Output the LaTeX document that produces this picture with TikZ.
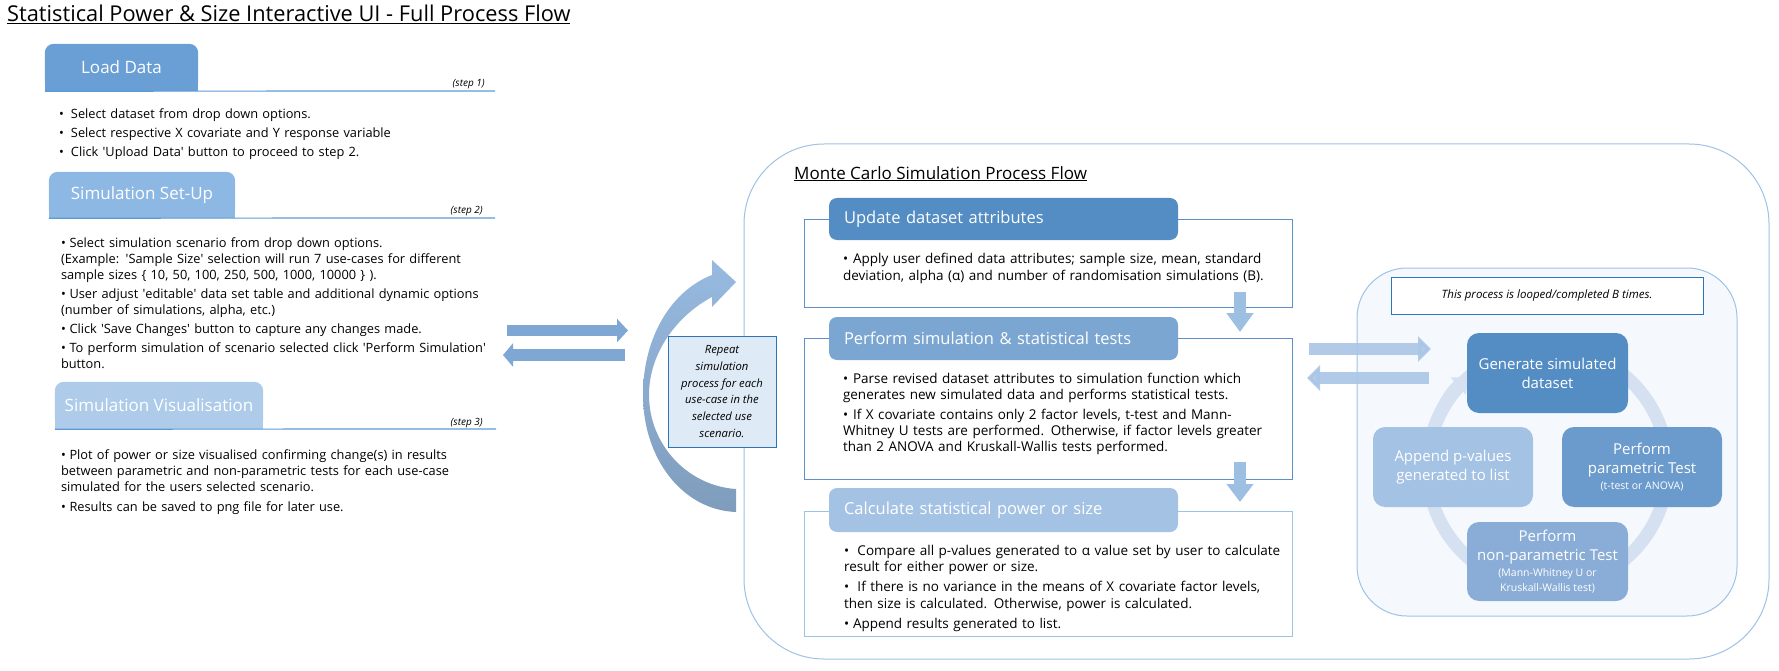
\documentclass[tikz,border=0pt]{standalone}
\usepackage{fontspec}
\setmainfont{Open Sans}
\usetikzlibrary{positioning,arrows.meta,calc,backgrounds}

\definecolor{tabload}{HTML}{6A9FD5}
\definecolor{tabsetup}{HTML}{8DB8E3}
\definecolor{tabvis}{HTML}{AECCE9}
\definecolor{rulecol}{HTML}{5B9BD5}
\definecolor{framecol}{HTML}{9DC3E6}
\definecolor{boxedge}{HTML}{5E8FC9}
\definecolor{darkedge}{HTML}{2E75B6}
\definecolor{noteback}{HTML}{DEEBF7}
\definecolor{stepA}{HTML}{548DC3}
\definecolor{stepB}{HTML}{7BA6D2}
\definecolor{stepC}{HTML}{A4C2E3}
\definecolor{cycA}{HTML}{548DC3}
\definecolor{cycB}{HTML}{6B9BCC}
\definecolor{cycC}{HTML}{8AADD7}
\definecolor{cycD}{HTML}{A4C2E3}
\definecolor{ringcol}{HTML}{D5E0F0}
\definecolor{loopback}{HTML}{F5F9FD}
\definecolor{uiarrow}{HTML}{7EA7D4}
\definecolor{downarrow}{HTML}{9DBFE2}
\definecolor{looparrow}{HTML}{A9C5E6}
\definecolor{crestop}{HTML}{97BAE0}
\definecolor{cresbot}{HTML}{7F9CBC}

\newlength\bulind
\newcommand\q{\textquotesingle}
\newcommand\bulletsetup[2]{\setlength\bulind{#1}\setlength\parskip{#2}}
\newcommand\bitem[1]{\par\hangindent=\bulind\hangafter=1\noindent
  \makebox[\bulind][l]{\textbullet}#1\par}

\begin{document}
\begin{tikzpicture}[x=1pt,y=-1pt,
                    tab/.style={text=white,inner sep=0pt,
                                font=\fontsize{17}{20}\selectfont},
                    steplabel/.style={font=\itshape\fontsize{10}{12}\selectfont,
                                      inner sep=0pt},
                    rule/.style={draw=rulecol,line width=1.2pt},
                    bullets/.style={text width=#1,align=left,inner sep=0pt},
                    leftfont/.style={font=\fontsize{12.8}{16.1}\selectfont},
                    mcfont/.style={font=\fontsize{13.5}{16.3}\selectfont},
                    secbox/.style={draw=boxedge,line width=0.9pt,fill=white},
                    sectab/.style={text=white,rounded corners=8pt,
                                   text width=319pt,inner xsep=15pt,
                                   align=left,minimum height=42pt,
                                   font=\fontsize{16.5}{20}\selectfont},
                    cyc/.style={text=white,rounded corners=12pt,align=center,
                                minimum width=161pt,minimum height=80pt,
                                inner sep=2pt,font=\fontsize{15}{19}\selectfont},
                    blockarrow/.style={line width=12pt,
                                       -{Triangle[width=25pt,length=13pt]}}]
  \useasboundingbox (0,0) rectangle (1779,671);

  \node[anchor=base west,inner sep=0pt,font=\fontsize{21.8}{26}\selectfont]
    (title) at (7,22) {\underline{Statistical Power \& Size Interactive UI - Full Process Flow}};

  % left column: the three UI steps
  \node[tab,minimum width=153pt,minimum height=47pt] (load) at (121.5,67.5) {Load Data};
  \node[tab,minimum width=186pt,minimum height=46pt] (setup) at (142,195) {Simulation Set-Up};
  \node[tab,minimum width=208pt,minimum height=47pt] (vis) at (159,405.5) {Simulation Visualisation};
  \begin{scope}[on background layer]
    \fill[tabload,rounded corners=9pt] (load.south west) rectangle (load.north east);
    \fill[tabload] (load.south west) rectangle (load.east);
    \fill[tabsetup,rounded corners=9pt] (setup.south west) rectangle (setup.north east);
    \fill[tabsetup] (setup.south west) rectangle (setup.east);
    \fill[tabvis,rounded corners=9pt] (vis.south west) rectangle (vis.north east);
    \fill[tabvis] (vis.south west) rectangle (vis.east);
  \end{scope}

  \node[steplabel,anchor=base east] (step1) at (485,87) {(step 1)};
  \node[steplabel,anchor=base east] (step2) at (483,214) {(step 2)};
  \node[steplabel,anchor=base east] (step3) at (483,425) {(step 3)};
  \draw[rule] (load.south west) -- (495,91);
  \draw[rule] (setup.south west) -- (495,218);
  \draw[rule] (vis.south west) -- (496,429);

  \node[bullets=440pt,leftfont,below right=8pt and 14pt of load.south west] (loadtxt)
    {\bulletsetup{12pt}{2.8pt}%
     \bitem{Select dataset from drop down options.}
     \bitem{Select respective X covariate and Y response variable}
     \bitem{Click \q Upload Data\q{} button to proceed to step 2.}};
  \node[bullets=440pt,leftfont,below right=10pt and 12pt of setup.south west] (setuptxt)
    {\bulletsetup{8.5pt}{2.8pt}%
     \bitem{Select simulation scenario from drop down options.\\
            (Example: \q Sample Size\q{} selection will run 7 use-cases for different\\
            sample sizes \{ 10, 50, 100, 250, 500, 1000, 10000 \} ).}
     \bitem{User adjust \q editable\q{} data set table and additional dynamic options\\
            (number of simulations, alpha, etc.)}
     \bitem{Click \q Save Changes\q{} button to capture any changes made.}
     \bitem{To perform simulation of scenario selected click \q Perform Simulation\q\\
            button.}};
  \node[bullets=440pt,leftfont,below right=9pt and 6pt of vis.south west] (vistxt)
    {\bulletsetup{8.5pt}{4.5pt}%
     \bitem{Plot of power or size visualised confirming change(s) in results\\
            between parametric and non-parametric tests for each use-case\\
            simulated for the users selected scenario.}
     \bitem{Results can be saved to png file for later use.}};

  % arrows between the UI and the simulation
  \coordinate (uiout) at (507,330.5);
  \coordinate (mcin) at (628,330.5);
  \coordinate (mcout) at (625,355);
  \coordinate (uiin) at (503,355);
  \draw[blockarrow,draw=uiarrow,line width=11pt,
        -{Triangle[width=23pt,length=11pt]}] (uiout) -- (mcin);
  \draw[blockarrow,draw=uiarrow,line width=12pt,
        -{Triangle[width=23pt,length=10pt]}] (mcout) -- (uiin);

  % Monte Carlo frame
  \draw[draw=framecol,line width=1pt,fill=white,rounded corners=80pt]
    (744,144) rectangle (1769,659);
  \node[anchor=base west,inner sep=0pt,font=\fontsize{17}{20}\selectfont]
    (mctitle) at (794,179) {\underline{Monte Carlo Simulation Process Flow}};

  % repeat arrow round the frame
  \shade[top color=crestop,bottom color=cresbot]
    (736,512) .. controls (682,510) and (643,458) .. (643,395)
    .. controls (643,335) and (673,290) .. (712,275)
    -- (712,260) -- (736,282) -- (712,307) -- (712,297)
    .. controls (678,315) and (649,352) .. (649,395)
    .. controls (649,445) and (688,486) .. (736,489) -- cycle;
  \node[draw=darkedge,line width=1pt,fill=noteback,align=center,
        minimum width=108pt,minimum height=111pt,inner sep=2pt,
        font=\itshape\fontsize{11.3}{16.7}\selectfont] (repeat) at (722,391.5)
    {Repeat\\simulation\\process for each\\use-case in the\\selected use\\scenario.};

  % the three stages
  \draw[secbox] (804,219) rectangle (1292,307);
  \draw[secbox] (804,338) rectangle (1292,479);
  \draw[secbox,draw=framecol] (804,511) rectangle (1292,636);
  \node[sectab,fill=stepA] (update) at (1003.5,219) {Update dataset attributes};
  \node[sectab,fill=stepB,minimum height=43pt] (perform) at (1003.5,338.5)
    {Perform simulation \& statistical tests};
  \node[sectab,fill=stepC,minimum height=44pt] (calc) at (1003.5,510)
    {Calculate statistical power or size};

  \node[bullets=440pt,mcfont,below right=4pt and 14pt of update.south west] (updatetxt)
    {\bulletsetup{10pt}{3pt}%
     \bitem{Apply user defined data attributes; sample size, mean, standard\\
            deviation, alpha (α) and number of randomisation simulations (B).}};
  \node[bullets=440pt,mcfont,below right=3pt and 14pt of perform.south west] (performtxt)
    {\bulletsetup{10pt}{3.5pt}%
     \bitem{Parse revised dataset attributes to simulation function which\\
            generates new simulated data and performs statistical tests.}
     \bitem{If X covariate contains only 2 factor levels, t-test and Mann-\\
            Whitney U tests are performed. Otherwise, if factor levels greater\\
            than 2 ANOVA and Kruskall-Wallis tests performed.}};
  \node[bullets=440pt,mcfont,below right=3pt and 15pt of calc.south west] (calctxt)
    {\bulletsetup{9pt}{3.8pt}%
     \bitem{\ Compare all p-values generated to α value set by user to calculate\\
            result for either power or size.}
     \bitem{\ If there is no variance in the means of X covariate factor levels,\\
            then size is calculated. Otherwise, power is calculated.}
     \bitem{Append results generated to list.}};

  \coordinate (upd2) at (1240,292);
  \coordinate (perf1) at (1240,332);
  \coordinate (perf2) at (1240,462);
  \coordinate (calc1) at (1240,502);
  \draw[blockarrow,draw=downarrow,-{Triangle[width=26pt,length=19pt]}] (upd2) -- (perf1);
  \draw[blockarrow,draw=downarrow,-{Triangle[width=26pt,length=18pt]}] (perf2) -- (calc1);

  % the B-times loop
  \draw[draw=framecol,line width=1pt,fill=loopback,rounded corners=50pt]
    (1357,268) rectangle (1737,616);
  \coordinate (simout) at (1309,349);
  \coordinate (loopin) at (1431,349);
  \coordinate (loopout) at (1429,378);
  \coordinate (simin) at (1307,378);
  \draw[blockarrow,draw=looparrow,opacity=0.9] (simout) -- (loopin);
  \draw[blockarrow,draw=looparrow,opacity=0.9] (loopout) -- (simin);

  \node[draw=darkedge,line width=1pt,fill=white,minimum width=312pt,
        minimum height=37pt,font=\itshape\fontsize{11.5}{14}\selectfont]
    (looped) at (1547,295.5) {This process is looped/completed B times.};

  \coordinate (ringc) at (1547.5,467.5);
  \draw[ringcol,line width=13pt] (ringc) circle[radius=120pt];
  \draw[ringcol,line width=13pt,-{Triangle[width=22pt,length=14pt]}]
    ($(ringc)+(165:120pt)$) arc[start angle=165,end angle=131,radius=120pt];

  \node[cyc,fill=cycA] (generate) at (1547.5,373) {Generate simulated\\dataset};
  \node[cyc,fill=cycB,minimum width=160pt] (param) at (1642,467)
    {Perform\\parametric Test\\[-3pt]{\fontsize{10.5}{13}\selectfont (t-test or ANOVA)}};
  \node[cyc,fill=cycC,minimum height=79pt] (nonparam) at (1547.5,561.5)
    {Perform\\non-parametric Test\\[-3pt]{\fontsize{10.5}{14}\selectfont (Mann-Whitney U or}\\[-4pt]
     {\fontsize{10.5}{14}\selectfont Kruskall-Wallis test)}};
  \node[cyc,fill=cycD,minimum width=160pt] (append) at (1453,467)
    {Append p-values\\generated to list};
\end{tikzpicture}
\end{document}
